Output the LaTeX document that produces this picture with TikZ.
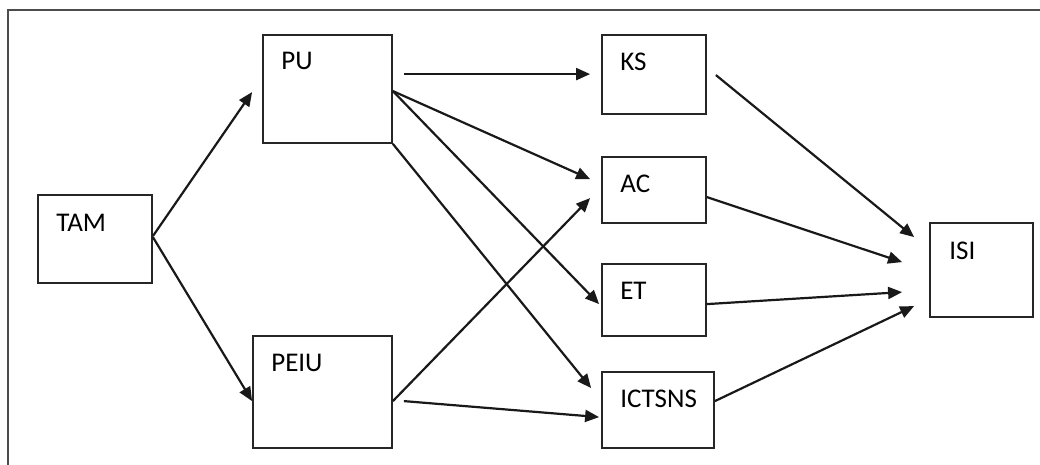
\documentclass[tikz,border=0pt]{standalone}
\usepackage{fontspec}
\setmainfont{Carlito}
\usetikzlibrary{arrows.meta,calc}
\begin{document}
\begin{tikzpicture}[x=1pt,y=-1pt,
  box/.style={draw=black!85, line width=1.8pt, minimum width=#1, inner sep=0pt},
  lbl/.style={font=\fontsize{27}{31}\selectfont, anchor=north west, inner sep=0pt},
  arr/.style={line width=2.2pt, black!90, -{Triangle[length=14pt,width=12pt]}},
  frame/.style={draw=black!70, line width=2.2pt}
]
\useasboundingbox (0,0) rectangle (1040,465);
\draw[frame] (8,465) -- (8,10) -- (1040,10);

\node[box=114pt, minimum height=88pt] (TAM) at (95,239) {};
\node[box=129pt, minimum height=108pt] (PU) at (327.5,89) {};
\node[box=139pt, minimum height=112pt] (PEIU) at (322.5,392) {};
\node[box=104pt, minimum height=79pt] (KS) at (654,74.5) {};
\node[box=104pt, minimum height=66pt] (AC) at (654,190) {};
\node[box=104pt, minimum height=72pt] (ET) at (654,300) {};
\node[box=112pt, minimum height=76pt] (ICTSNS) at (658,410) {};
\node[box=103pt, minimum height=94pt] (ISI) at (981.5,270) {};

\node[lbl] (tTAM) at ($(TAM.north west)+(19,20)$) {TAM};
\node[lbl] (tPU) at ($(PU.north west)+(19,18)$) {PU};
\node[lbl] (tPEIU) at ($(PEIU.north west)+(19,19)$) {PEIU};
\node[lbl] (tKS) at ($(KS.north west)+(19,19)$) {KS};
\node[lbl] (tAC) at ($(AC.north west)+(19,19)$) {AC};
\node[lbl] (tET) at ($(ET.north west)+(19,19)$) {ET};
\node[lbl] (tICTSNS) at ($(ICTSNS.north west)+(19,19)$) {ICTSNS};
\node[lbl] (tISI) at ($(ISI.north west)+(20,20)$) {ISI};

\draw[arr] ($(TAM.north east)+(0,42)$) -- ($(PU.north west)+(-10,58)$);
\draw[arr] ($(TAM.north east)+(0,43)$) -- ($(PEIU.north west)+(0,66)$);
\draw[arr] ($(PU.north east)+(11,40)$) -- ($(KS.north west)+(-11,40)$);
\draw[arr] ($(PU.north east)+(0,57)$) -- ($(AC.north west)+(-11,23)$);
\draw[arr] ($(PU.north east)+(0,57)$) -- ($(ET.north west)+(-2,41)$);
\draw[arr] (PU.south east) -- ($(ICTSNS.north west)+(-10,17)$);
\draw[arr] ($(PEIU.north east)+(0,66)$) -- ($(AC.north west)+(-11,42)$);
\draw[arr] ($(PEIU.north east)+(11,66)$) -- ($(ICTSNS.north west)+(-2,46)$);
\draw[arr] ($(KS.north east)+(9,41)$) -- ($(ISI.north west)+(-15,15)$);
\draw[arr] ($(AC.north east)+(0,41)$) -- ($(ISI.north west)+(-27,40)$);
\draw[arr] ($(ET.north east)+(0,41)$) -- ($(ISI.north west)+(-27,70)$);
\draw[arr] ($(ICTSNS.north east)+(0,30)$) -- ($(ISI.north west)+(-15,84)$);
\end{tikzpicture}
\end{document}
